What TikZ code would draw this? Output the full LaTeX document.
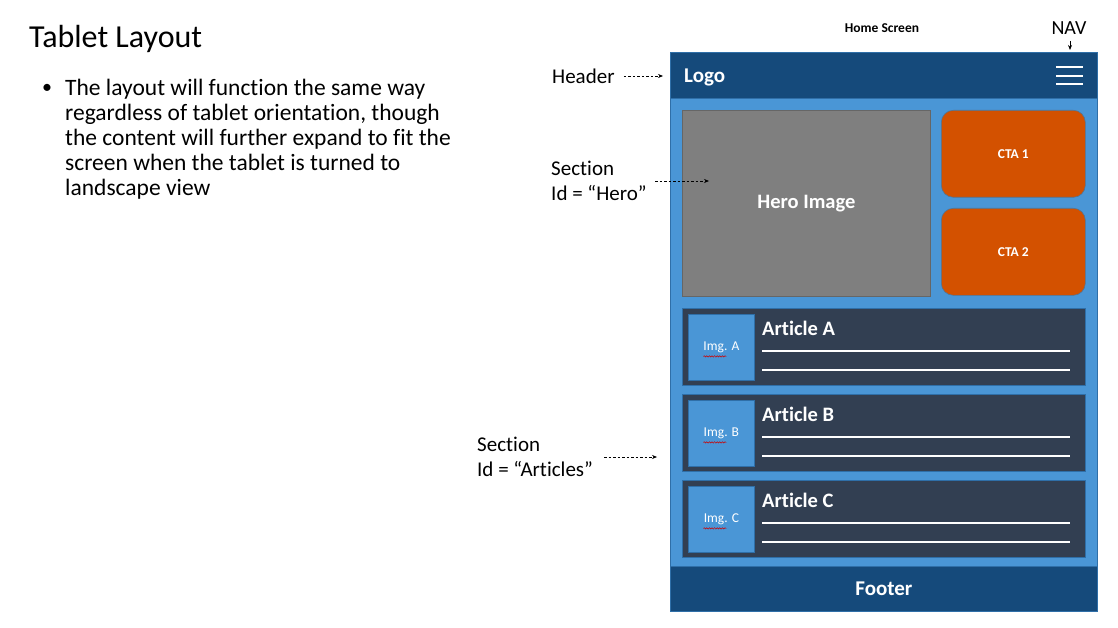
\documentclass[tikz,border=0pt]{standalone}
\usepackage{fontspec}
\setmainfont[Ligatures=NoCommon]{Carlito}
\usetikzlibrary{arrows.meta,calc,decorations.pathmorphing}

\definecolor{paleblue}{HTML}{4A96D6}
\definecolor{edgeblue}{HTML}{2F6FA8}
\definecolor{navyblue}{HTML}{154A7B}
\definecolor{slate}{HTML}{323F52}
\definecolor{heroGray}{HTML}{7F7F7F}
\definecolor{ctaOrange}{HTML}{D35100}

\tikzset{
  panel/.style={draw=edgeblue, line width=0.8pt, anchor=north west, inner sep=0pt},
  bar/.style={panel, fill=navyblue},
  article/.style={panel, fill=slate, minimum width=403pt, minimum height=77pt},
  thumb/.style={panel, fill=paleblue, minimum width=66pt, minimum height=66pt,
    text=white, font=\fontsize{13.5}{15}\selectfont},
  cta/.style={draw=edgeblue!60!gray, fill=ctaOrange, rounded corners=12pt, line width=0.6pt,
    anchor=north west, inner sep=0pt, minimum width=144pt, minimum height=87pt,
    text=white, font=\fontsize{13.5}{15}\selectfont\bfseries},
  note/.style={align=left, anchor=west, inner sep=0pt, font=\fontsize{21}{25}\selectfont},
  pointer/.style={dashed, dash pattern=on 2.5pt off 2pt, line width=0.7pt, -{Stealth[length=5pt,width=4pt]}},
  rule/.style={white, line width=2.6pt},
  spell/.style={red!80!black, line width=0.5pt, decorate, decoration={snake, amplitude=0.7pt, segment length=2.6pt}}
}

\begin{document}
\begin{tikzpicture}[x=1pt, y=-1pt]
\useasboundingbox (0,0) rectangle (1118,628);

% left column
\path (29,39) node[anchor=west, inner sep=0pt, font=\fontsize{32}{36}\selectfont] (title) {Tablet Layout}
      (47,89) node[inner sep=0pt, font=\fontsize{20}{24}\selectfont] (dot) {\textbullet}
      (65,139) node[note, font=\fontsize{23.5}{25}\selectfont] (blurb) {The layout will function the same way\\
        regardless of tablet orientation, though\\
        the content will further expand to fit the\\
        screen when the tablet is turned to\\
        landscape view};

% tablet frame
\node[panel, fill=paleblue, minimum width=427pt, minimum height=559pt] (tablet) at (670,52) {};
\node[bar, minimum width=427pt, minimum height=46pt] (header) at (670,52) {};
\node[bar, minimum width=427pt, minimum height=45pt] (footer) at (670,566) {};
\node[text=white, font=\fontsize{21}{24}\selectfont\bfseries] (footertxt) at (footer.center) {Footer};
\node[anchor=west, inner sep=0pt, text=white, font=\fontsize{21}{24}\selectfont\bfseries] (logo) at (684,77) {Logo};

% hamburger
\foreach \y in {67,76,84}
  \draw[rule] (1056,\y) -- (1083,\y);

% hero and calls to action
\node[anchor=north west, inner sep=0pt, draw=heroGray!80!black, fill=heroGray, line width=0.8pt,
  minimum width=248pt, minimum height=186pt, text=white, font=\fontsize{20.5}{24}\selectfont\bfseries] (hero) at (682,110) {Hero Image};
\node[cta] (cta1) at (941,110) {CTA 1};
\node[cta] (cta2) at (941,208) {CTA 2};

% articles
\foreach \name/\top in {A/308,B/394,C/480}{
  \node[article] (art\name) at (682,\top) {};
  \node[thumb] (img\name) at (688,\top+6) {Img. \name};
  \draw[spell] ($(img\name.center)+(-18,9)$) -- ++(23,0);
  \node[anchor=west, inner sep=0pt, text=white, font=\fontsize{20.5}{24}\selectfont\bfseries] (head\name) at (762,\top+20) {Article \name};
  \draw[rule] (762,\top+43) -- (1070,\top+43);
  \draw[rule] (762,\top+62) -- (1070,\top+62);
}

% annotations
\node[font=\fontsize{13.5}{15}\selectfont\bfseries] (screen) at (882,28) {Home Screen};
\node[font=\fontsize{20}{22}\selectfont] (nav) at (1069,28) {NAV};
\coordinate (navtip) at (1070,50);
\draw[-{Stealth[length=5pt,width=4pt]}, line width=0.7pt] (1070,41) -- (navtip);

\node[note] (headerlbl) at (552,76) {Header};
\coordinate (headertip) at (663,76);
\draw[pointer] (headerlbl.east) ++(9,0) -- (headertip);

\node[note] (herolbl) at (551,181) {Section\\Id = “Hero”};
\coordinate (herotip) at (709,181);
\draw[pointer] (655,181) -- (herotip);

\node[note] (artlbl) at (477,457) {Section\\Id = “Articles”};
\coordinate (arttip) at (657,457);
\draw[pointer] (artlbl.east) ++(11,0) -- (arttip);
\end{tikzpicture}
\end{document}
